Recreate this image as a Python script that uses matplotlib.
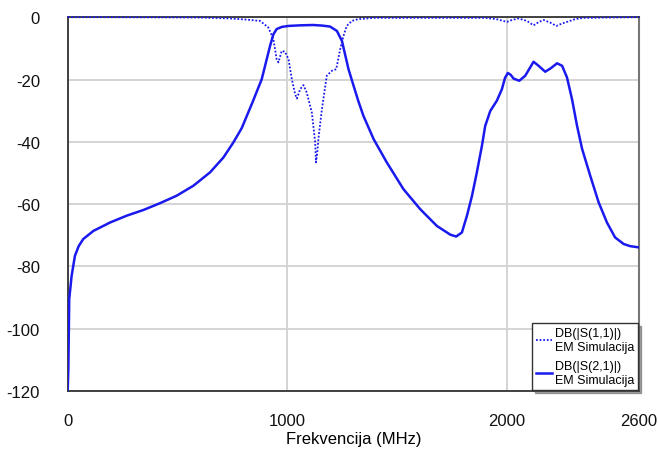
import matplotlib
matplotlib.use("Agg")
import matplotlib.pyplot as plt

# S21 (transmission)
s21_freq = [0, 3, 7, 18, 33, 50, 71, 117, 193, 269, 344, 420, 496, 572, 648, 709,
            754, 792, 840, 883, 921, 936, 951, 975, 1005, 1060, 1118, 1160, 1194,
            1225, 1248, 1278, 1301, 1323, 1346, 1392, 1452, 1528, 1604, 1680, 1741,
            1768, 1794, 1817, 1840, 1862, 1885, 1900, 1923, 1953, 1976, 1990, 2003,
            2016, 2029, 2055, 2082, 2120, 2143, 2173, 2196, 2227, 2250, 2272, 2295,
            2318, 2341, 2378, 2416, 2454, 2491, 2530, 2560, 2600]
s21_db = [-120, -113, -90.5, -83, -76.6, -73.5, -71.2, -68.6, -65.9, -63.7, -61.9,
          -59.7, -57.3, -54.1, -49.8, -45, -40.2, -35.6, -27.5, -19.9, -9.2, -5.5,
          -3.8, -3.1, -2.8, -2.6, -2.5, -2.7, -3.0, -4.4, -7.6, -16.7, -22, -27,
          -31.7, -39.1, -46.6, -55.2, -61.6, -67, -69.8, -70.4, -69.1, -63.7, -57.3,
          -49.8, -41.3, -34.9, -30.1, -26.8, -23.1, -19.5, -17.9, -18.5, -19.7,
          -20.4, -18.8, -14.3, -15.6, -17.5, -16.5, -14.8, -15.6, -19.3, -26.3,
          -34.9, -42.3, -50.9, -59.4, -65.9, -70.7, -72.8, -73.5, -73.9]

# S11 (reflection)
s11_freq = [0, 150, 600, 739, 820, 876, 913, 936, 951, 959, 974, 989, 1005, 1020,
            1035, 1043, 1058, 1073, 1088, 1111, 1126, 1130, 1135, 1141, 1157, 1179,
            1202, 1222, 1240, 1255, 1270, 1293, 1322, 1400, 1900, 1950, 1999, 2025,
            2052, 2090, 2120, 2145, 2166, 2195, 2224, 2250, 2272, 2310, 2348, 2600]
s11_db = [0, 0, -0.1, -0.4, -0.8, -1.2, -3.3, -7, -13.5, -14.5, -10.8, -11.1,
          -13.5, -19.9, -24.7, -26.1, -23.1, -21.8, -24.2, -30.6, -40, -46.6, -44,
          -39, -29.5, -18.8, -17.2, -16.7, -10.3, -6, -2.8, -1.2, -0.6, -0.2,
          -0.2, -0.6, -1.5, -0.8, -0.4, -1.2, -2.6, -1.5, -0.9, -1.7, -2.8, -2.0,
          -1.5, -0.6, -0.2, 0]

x_ticks = [0, 1000, 2000, 2600]
y_ticks = [0, -20, -40, -60, -80, -100, -120]

plt.rcParams["font.family"] = ["Liberation Sans", "DejaVu Sans"]
plt.rcParams["axes.unicode_minus"] = False

fig = plt.figure(figsize=(6.59, 4.52), dpi=100)
ax = fig.add_axes([0.1027, 0.1327, 0.867, 0.827])

line_col = "#1a1aee"
ax.plot(s11_freq, s11_db, color=line_col, lw=1.3, linestyle=(0, (1, 1)),
        clip_on=False, label="DB(|S(1,1)|)\nEM Simulacija", zorder=3)
ax.plot(s21_freq, s21_db, color=line_col, lw=1.8,
        label="DB(|S(2,1)|)\nEM Simulacija", zorder=3)

ax.set_xlim(0, 2600)
ax.set_ylim(-120, 0)
ax.set_xticks(x_ticks)
ax.set_yticks(y_ticks)
ax.tick_params(length=0, labelsize=12, colors="#111111")
ax.tick_params(axis="y", pad=20)
ax.tick_params(axis="x", pad=16)
ax.grid(True, color="#d4d4d4", lw=1.4, zorder=0)
ax.set_axisbelow(True)

for side in ["left", "bottom", "top"]:
    ax.spines[side].set_color("#333333")
    ax.spines[side].set_linewidth(1.3)
ax.spines["right"].set_color("#777777")
ax.spines["right"].set_linewidth(1.5)

ax.set_xlabel("Frekvencija (MHz)", fontsize=12, labelpad=2)

leg = ax.legend(loc="lower right", fontsize=9, fancybox=False, shadow=True,
                borderaxespad=0.1, handlelength=1.3, handletextpad=0.2,
                borderpad=0.3, labelspacing=0.6, framealpha=1)
leg.get_frame().set_edgecolor("#333333")
leg.get_frame().set_linewidth(1.0)

fig.savefig("out.png", dpi=100)
